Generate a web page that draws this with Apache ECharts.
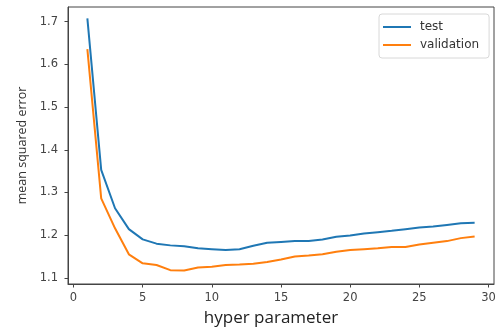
<!DOCTYPE html>
<html>
<head>
<meta charset="utf-8">
<script src="https://cdn.jsdelivr.net/npm/echarts@6/dist/echarts.min.js"></script>
<style>
  html, body { margin: 0; padding: 0; background: #fff; }
  #chart { width: 503px; height: 329px; }
</style>
</head>
<body>
<div id="chart"></div>
<script>
// values
var hyperParam = [1,2,3,4,5,6,7,8,9,10,11,12,13,14,15,16,17,18,19,20,21,22,23,24,25,26,27,28,29];
var testErr = [1.708,1.353,1.263,1.214,1.190,1.180,1.176,1.174,1.169,1.167,1.165,1.167,1.175,1.182,1.184,1.186,1.186,1.190,1.196,1.199,1.204,1.207,1.210,1.214,1.218,1.220,1.224,1.228,1.229];
var validErr = [1.636,1.286,1.216,1.155,1.134,1.130,1.118,1.117,1.124,1.126,1.130,1.131,1.133,1.137,1.143,1.150,1.152,1.155,1.161,1.165,1.167,1.169,1.172,1.172,1.178,1.182,1.186,1.193,1.197];
var xTicks = [0,5,10,15,20,25,30];
var yTicks = [1.1,1.2,1.3,1.4,1.5,1.6,1.7];

var tickFont = 'DejaVu Sans';
var labelFont = 'Open Sans';

function pairs(xs, ys) {
  return xs.map(function (x, i) { return [x, ys[i]]; });
}

var chart = echarts.init(document.getElementById('chart'));

var option = {
  animation: false,
  backgroundColor: '#fff',
  grid: {
    left: 68, right: 9, top: 7, bottom: 45,
    show: true, borderColor: '#444', borderWidth: 1
  },
  legend: {
    orient: 'vertical',
    left: 379, top: 14,
    padding: [7, 10, 7, 4],
    icon: 'rect',
    itemWidth: 28, itemHeight: 2, itemGap: 6,
    backgroundColor: '#fff',
    borderColor: '#d8d8d8', borderWidth: 1, borderRadius: 3,
    textStyle: { fontFamily: tickFont, fontSize: 12, color: '#333', padding: [0, 0, 0, 4] },
    data: ['test', 'validation']
  },
  xAxis: {
    type: 'value',
    min: -0.4, max: 30.4,
    splitLine: { show: false },
    axisLine: { show: true, onZero: false, lineStyle: { color: '#444' } },
    axisTick: { show: true, length: 3.5, lineStyle: { color: '#444' }, customValues: xTicks },
    axisLabel: { fontFamily: tickFont, fontSize: 11.5, color: '#444', margin: 8, customValues: xTicks }
  },
  yAxis: {
    type: 'value',
    min: 1.0855, max: 1.7345,
    name: 'mean squared error',
    nameLocation: 'middle',
    nameGap: 38,
    nameTextStyle: { fontFamily: labelFont, fontSize: 12.5, color: '#333' },
    splitLine: { show: false },
    axisLine: { show: true, onZero: false, lineStyle: { color: '#444' } },
    axisTick: { show: true, length: 3.5, lineStyle: { color: '#444' }, customValues: yTicks },
    axisLabel: {
      fontFamily: tickFont, fontSize: 11.5, color: '#444', margin: 10,
      customValues: yTicks,
      formatter: function (v) { return v.toFixed(1); }
    }
  },
  graphic: [{
    type: 'text',
    x: 271, y: 318,
    style: {
      text: 'hyper parameter',
      font: '17px "Open Sans"',
      fill: '#222',
      textAlign: 'center',
      textVerticalAlign: 'middle'
    }
  }],
  series: [{
    name: 'test',
    type: 'line',
    data: pairs(hyperParam, testErr),
    symbol: 'none',
    color: '#1f77b4',
    lineStyle: { width: 2, color: '#1f77b4' }
  }, {
    name: 'validation',
    type: 'line',
    data: pairs(hyperParam, validErr),
    symbol: 'none',
    color: '#ff7f0e',
    lineStyle: { width: 2, color: '#ff7f0e' }
  }]
};

chart.setOption(option);
</script>
</body>
</html>
